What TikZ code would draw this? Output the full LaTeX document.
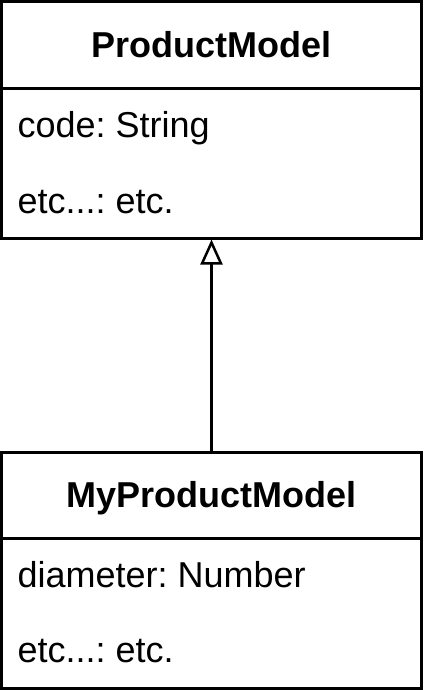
\documentclass[tikz,border=0pt]{standalone}
\usepackage{fontspec}
\setmainfont{Liberation Sans}
\usetikzlibrary{arrows.meta}
\frenchspacing
\begin{document}
\begin{tikzpicture}[x=1pt,y=-1pt, line width=3pt,
 box/.style={draw, rectangle, inner sep=0pt, minimum width=420pt},
 ttl/.style={font=\fontsize{36}{40}\selectfont\bfseries, anchor=base, inner sep=0pt},
 attr/.style={font=\fontsize{36}{40}\selectfont, anchor=base west, inner sep=0pt},
 inherit/.style={-{Triangle[open,length=25pt,width=22pt,line width=2.5pt]}}]
\useasboundingbox (0,0) rectangle (423,690);
% parent class
\node[box, minimum height=236.5pt] (parent) at (211.5,119.75) {};
\coordinate (ps) at (0,88.5);
\draw (parent.west |- ps) -- (parent.east |- ps);
\node[ttl] (ptitle) at (211.5,57.5) {ProductModel};
\node[attr] (pa1) at (16,137) {code: String};
\node[attr] (pa2) at (16,213) {etc...: etc.};
% child class
\node[box, minimum height=236pt] (child) at (211.5,570) {};
\coordinate (cs) at (0,538.5);
\draw (child.west |- cs) -- (child.east |- cs);
\node[ttl] (ctitle) at (211.5,507) {MyProductModel};
\node[attr] (ca1) at (16,587) {diameter: Number};
\node[attr] (ca2) at (16,662) {etc...: etc.};
% generalization
\draw[inherit] (child.north) -- (parent.south);
\end{tikzpicture}
\end{document}
